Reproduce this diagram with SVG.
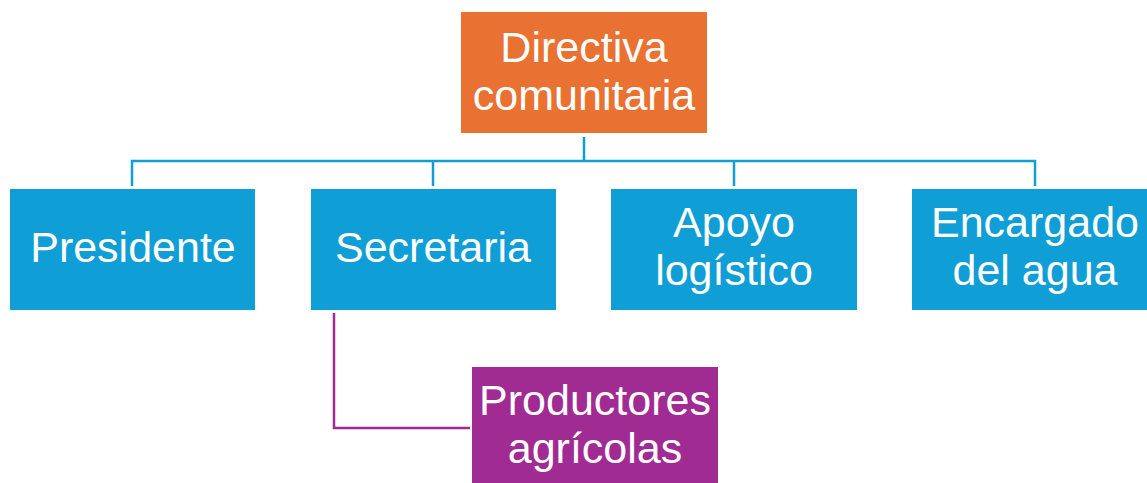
<svg xmlns="http://www.w3.org/2000/svg" width="1147" height="483" viewBox="0 0 1147 483">
<style>
.t{font-family:"Liberation Sans",Arial,sans-serif;font-size:43px;fill:#fff;text-anchor:middle}
.blue{fill:#0F9ED5}
.c{fill:none;stroke-width:2.5}
</style>
<rect width="1147" height="483" fill="#fff"/>
<g id="connectors">
<path class="c" stroke="#0F9ED5" d="M584 137V161M132 186V161H1035V186M433 161V186M734 161V186"/>
<path class="c" stroke="#A02B93" d="M334 313V428H470"/>
</g>
<g id="directiva">
<rect x="461" y="12" width="246" height="121" fill="#E97132"/>
<text class="t" x="584" y="62">Directiva</text>
<text class="t" x="584" y="110">comunitaria</text>
</g>
<g id="presidente">
<rect class="blue" x="10" y="189" width="245" height="121"/>
<text class="t" x="133" y="262">Presidente</text>
</g>
<g id="secretaria">
<rect class="blue" x="311" y="189" width="245" height="121"/>
<text class="t" x="433" y="262">Secretaria</text>
</g>
<g id="apoyo">
<rect class="blue" x="611" y="189" width="246" height="121"/>
<text class="t" x="734" y="237">Apoyo</text>
<text class="t" x="734" y="285">logístico</text>
</g>
<g id="encargado">
<rect class="blue" x="912" y="189" width="246" height="121"/>
<text class="t" x="1035" y="237">Encargado</text>
<text class="t" x="1035" y="285">del agua</text>
</g>
<g id="productores">
<rect x="472" y="367" width="246" height="121" fill="#A02B93"/>
<text class="t" x="595" y="415">Productores</text>
<text class="t" x="595" y="463">agrícolas</text>
</g>
</svg>
